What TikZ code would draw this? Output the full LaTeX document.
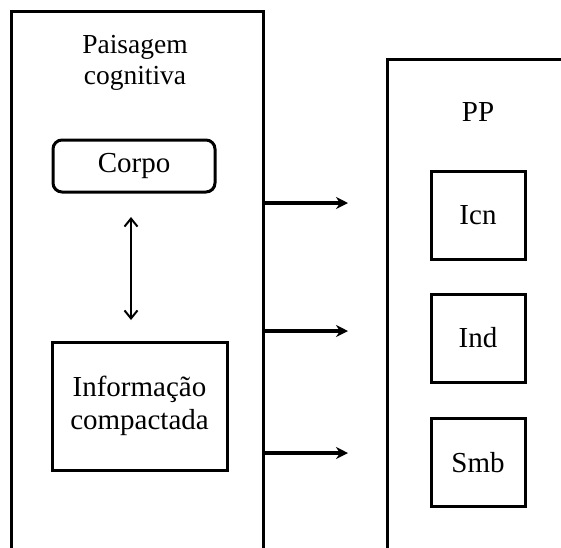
\documentclass[tikz,border=0pt]{standalone}
\usepackage{fontspec}
\setmainfont{Liberation Serif}
\usetikzlibrary{arrows.meta}
\tikzset{>=Stealth}
\tikzset{
  frame/.style={line width=3pt},
  box/.style={draw,line width=3pt,minimum width=94pt,minimum height=88pt,
    font=\fontsize{29}{32}\selectfont},
  label/.style={align=center,font=\fontsize{29}{32}\selectfont},
  feed/.style={line width=3.2pt,-{Stealth[length=12pt,width=12pt]}}
}

\begin{document}
\begin{tikzpicture}[x=1pt,y=-1pt]
\useasboundingbox (0,0) rectangle (561,547);
\draw[frame] (11,549) |- (263,11) -- (263,549);
\draw[frame] (387,549) |- (563,59);
\node[label,font=\fontsize{27.5}{31}\selectfont] (land) at (135,63) {Paisagem\\cognitiva};
\node[box,rounded corners=9pt,minimum width=162pt,minimum height=52pt] (corpo) at (134,166) {Corpo};
\node[box,align=center,minimum width=175pt,minimum height=128pt,
  font=\fontsize{29}{33}\selectfont] (info) at (139.5,406) {Informação\\compactada};
\coordinate (c1) at (131,217);
\coordinate (c2) at (131,320);
\draw[line width=2pt,{Straight Barb[length=8pt,width=13pt]}-{Straight Barb[length=8pt,width=13pt]}] (c1) -- (c2);
\node[label] (pp) at (478,112) {PP};
\node[box] (icn) at (478,215) {Icn};
\node[box] (ind) at (478,338) {Ind};
\node[box] (smb) at (478,462.5) {Smb};
\coordinate (a1) at (263,203);
\coordinate (b1) at (348,203);
\coordinate (a2) at (263,331);
\coordinate (b2) at (348,331);
\coordinate (a3) at (263,453);
\coordinate (b3) at (348,453);
\draw[feed] (a1) -- (b1);
\draw[feed] (a2) -- (b2);
\draw[feed] (a3) -- (b3);
\end{tikzpicture}
\end{document}
